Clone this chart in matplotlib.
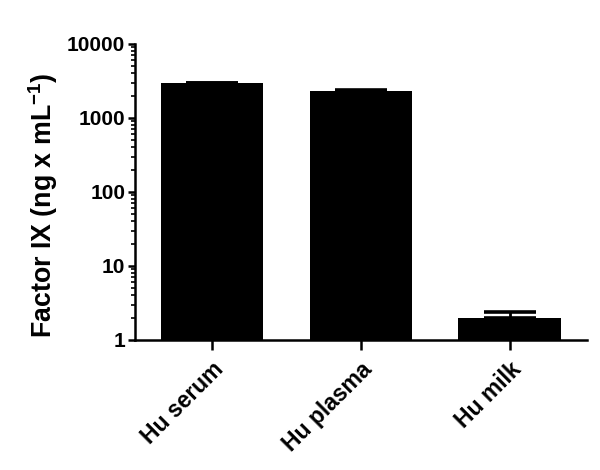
import matplotlib
matplotlib.use("Agg")
import matplotlib.pyplot as plt
import matplotlib.transforms as mtrans
import numpy as np

# values (ng x mL^-1)
samples = ["Hu serum", "Hu plasma", "Hu milk"]
means = [3000, 2350, 1.97]
errors = [10, 8, 0.41]

plt.rcParams['font.family'] = ['Liberation Sans', 'DejaVu Sans']
plt.rcParams['font.weight'] = 'bold'
plt.rcParams['mathtext.fontset'] = 'custom'
plt.rcParams['mathtext.rm'] = 'Liberation Sans:bold'
plt.rcParams['mathtext.bf'] = 'Liberation Sans:bold'
plt.rcParams['mathtext.default'] = 'rm'


def main():
    fig = plt.figure(figsize=(6, 4.7), dpi=100)
    ax = fig.add_axes([0.225, 0.2766, 0.753, 0.6298])

    x = np.arange(len(samples))
    ax.bar(x, means, width=0.69, color='black')
    ax.errorbar(x, means, yerr=[np.zeros(len(errors)), errors], fmt='none',
                ecolor='black', elinewidth=2, capsize=19, capthick=2.6)

    ax.set_yscale('log')
    ax.set_ylim(1, 10000)
    ax.set_xlim(-0.517, 2.517)
    ax.set_yticks([1, 10, 100, 1000, 10000])
    ax.set_yticklabels(["1", "10", "100", "1000", "10000"])
    ax.set_xticks(x)
    ax.set_xticklabels(samples, rotation=45, ha='right', rotation_mode='anchor',
                       fontsize=16.5)
    # nudge the rotated labels a little left/down like the original
    shift = mtrans.ScaledTranslation(-4 / 100, -2 / 100, fig.dpi_scale_trans)
    for lbl in ax.get_xticklabels():
        lbl.set_transform(lbl.get_transform() + shift)

    ax.spines['top'].set_visible(False)
    ax.spines['right'].set_visible(False)
    for s in ['left', 'bottom']:
        ax.spines[s].set_linewidth(1.8)

    ax.tick_params(axis='y', which='major', length=5, width=1.8,
                   labelsize=15, pad=2)
    ax.tick_params(axis='y', which='minor', length=3, width=1.2)
    ax.tick_params(axis='x', which='major', length=7, width=1.8, pad=6)

    fig.text(43 / 600, 1 - 205 / 470, "Factor IX (ng x mL$^{-1}$)",
             fontsize=19.3, fontweight='bold', rotation=90,
             ha='center', va='center')

    fig.savefig("out.png", dpi=100)
    plt.close(fig)


if __name__ == '__main__':
    main()
